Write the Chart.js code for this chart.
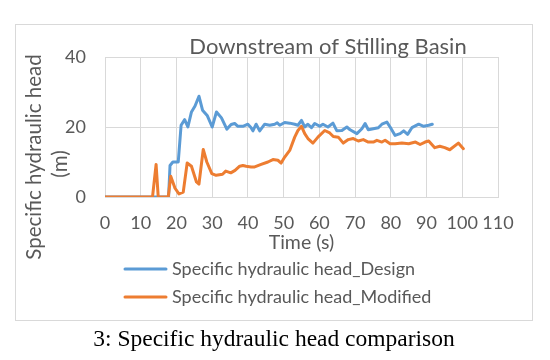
<!DOCTYPE html>
<html>
<head>
<meta charset="utf-8">
<script src="https://cdn.jsdelivr.net/npm/chart.js@4.4.1/dist/chart.umd.min.js"></script>
<style>
  html, body { margin: 0; padding: 0; background: #ffffff; }
  #wrap { width: 550px; height: 360px; position: relative; }
</style>
</head>
<body>
<div id="wrap"><canvas id="c" width="550" height="360"></canvas></div>
<script>
// ---------- data ----------
const chartTitle = "Downstream of Stilling Basin";
const xAxisTitle = "Time (s)";
const yAxisTitleLines = ["Specific hydraulic head", "(m)"];
const caption = "3: Specific hydraulic head comparison";
const seriesNames = ["Specific hydraulic head_Design", "Specific hydraulic head_Modified"];

const designTime = [0, 17.8, 18.2, 19.0, 20.5, 21.3, 22.3, 23.2, 24.2, 25.2, 26.3, 27.3, 28.6, 30.0, 31.2, 32.6, 34.1, 35.3, 36.3, 37.2, 38.6, 40.0, 40.9, 41.4, 42.3, 43.3, 44.7, 46.1, 47.5, 48.2, 48.9, 50.3, 51.7, 53.1, 54.0, 55.0, 55.9, 56.8, 57.8, 58.7, 60.1, 61.0, 62.4, 63.8, 64.9, 66.3, 67.7, 68.6, 70.5, 71.9, 72.8, 73.7, 75.1, 76.5, 77.5, 78.9, 79.8, 81.2, 82.6, 83.6, 84.7, 85.9, 87.8, 89.2, 90.6, 91.6];
const designHead = [0, 0, 9.0, 10.0, 10.0, 20.5, 22.1, 20.0, 24.3, 26.0, 28.8, 24.8, 23.3, 20.0, 24.3, 22.6, 19.4, 20.7, 21.0, 20.2, 20.2, 20.8, 19.8, 18.9, 20.8, 18.9, 20.8, 20.5, 20.8, 21.2, 20.5, 21.3, 21.1, 20.8, 20.5, 21.9, 20.0, 20.8, 19.8, 21.0, 20.2, 20.8, 20.0, 21.1, 18.9, 19.0, 20.0, 19.2, 18.1, 19.5, 21.0, 19.2, 19.5, 19.8, 20.8, 21.4, 20.0, 17.6, 18.1, 18.9, 17.9, 19.8, 20.8, 20.2, 20.5, 20.8];

const modifiedTime = [0, 13.3, 14.3, 14.9, 17.7, 18.4, 19.6, 20.7, 21.9, 23.0, 24.2, 25.6, 26.3, 27.5, 28.5, 29.9, 31.1, 32.9, 33.8, 35.2, 36.4, 37.7, 38.6, 39.5, 40.9, 41.9, 43.7, 45.6, 47.0, 48.4, 49.3, 50.3, 51.7, 53.1, 54.0, 55.0, 55.9, 56.8, 58.2, 59.6, 61.5, 62.9, 63.9, 65.3, 66.7, 68.1, 69.5, 70.9, 72.3, 73.7, 75.1, 76.1, 77.5, 78.4, 79.8, 81.2, 83.1, 85.0, 86.9, 88.2, 89.6, 90.6, 92.3, 93.7, 95.1, 96.5, 98.9, 100.3];
const modifiedHead = [0, 0, 9.3, 0, 0, 5.9, 2.5, 0.9, 1.4, 9.7, 8.8, 4.3, 3.7, 13.6, 10.0, 6.7, 6.2, 6.5, 7.4, 6.9, 7.6, 8.8, 9.0, 8.8, 8.6, 8.6, 9.3, 10.0, 10.7, 10.5, 9.7, 11.4, 13.3, 17.1, 19.0, 20.2, 18.1, 16.7, 15.4, 17.1, 19.0, 18.3, 17.3, 17.1, 15.4, 16.4, 16.7, 16.0, 16.4, 15.7, 15.7, 16.2, 15.7, 16.2, 15.2, 15.2, 15.4, 15.2, 15.7, 15.0, 15.7, 16.0, 14.1, 14.5, 14.1, 13.5, 15.4, 13.8];

const xTicks = [0, 10, 20, 30, 40, 50, 60, 70, 80, 90, 100, 110];
const yTicks = [0, 20, 40];

// ---------- styles ----------
const BLUE = "#5B9BD5";
const ORANGE = "#ED7D31";
const TEXT = "#595959";
const GRID = "#d9d9d9";
const SANS = "Lato, 'Open Sans', sans-serif";
const SERIF = "'Liberation Serif', 'DejaVu Serif', serif";

const toPts = (xs, ys) => xs.map((x, i) => ({ x: x, y: ys[i] }));

const decor = {
  id: 'decor',
  beforeDraw(chart) {
    const ctx = chart.ctx;
    ctx.save();
    ctx.fillStyle = '#ffffff';
    ctx.fillRect(0, 0, chart.width, chart.height);
    ctx.strokeStyle = GRID;
    ctx.lineWidth = 1;
    ctx.strokeRect(15.5, 24.5, 517, 296);
    ctx.restore();
  },
  afterDraw(chart) {
    const ctx = chart.ctx;
    const a = chart.chartArea;
    ctx.save();
    ctx.fillStyle = TEXT;
    ctx.textBaseline = 'middle';
    // chart title
    ctx.font = "22px " + SANS;
    ctx.textAlign = 'center';
    ctx.fillText(chartTitle, 328, 47);
    // x axis title
    ctx.font = "19.5px " + SANS;
    ctx.fillText(xAxisTitle, (a.left + a.right) / 2, 243);
    // y axis title
    ctx.font = "20.5px " + SANS;
    ctx.save();
    ctx.translate(34, 157);
    ctx.rotate(-Math.PI / 2);
    ctx.fillText(yAxisTitleLines[0], 0, 0);
    ctx.restore();
    ctx.save();
    ctx.translate(60, 164);
    ctx.rotate(-Math.PI / 2);
    ctx.fillText(yAxisTitleLines[1], 0, 0);
    ctx.restore();
    // legend
    const cols = [BLUE, ORANGE];
    const ly = [269, 297];
    ctx.font = "18px " + SANS;
    ctx.textAlign = 'left';
    for (let i = 0; i < 2; i++) {
      ctx.strokeStyle = cols[i];
      ctx.lineWidth = 3;
      ctx.lineCap = 'round';
      ctx.beginPath();
      ctx.moveTo(125, ly[i]);
      ctx.lineTo(166, ly[i]);
      ctx.stroke();
      ctx.fillText(seriesNames[i], 172, ly[i]);
    }
    // caption
    ctx.fillStyle = '#000000';
    ctx.font = "23.5px " + SERIF;
    ctx.textAlign = 'center';
    ctx.fillText(caption, 274, 340);
    ctx.restore();
  }
};

new Chart(document.getElementById('c'), {
  type: 'line',
  data: {
    datasets: [
      { label: seriesNames[0], data: toPts(designTime, designHead), borderColor: BLUE, backgroundColor: BLUE,
        borderWidth: 3, pointRadius: 0, tension: 0, fill: false, borderJoinStyle: 'round', borderCapStyle: 'round', order: 2 },
      { label: seriesNames[1], data: toPts(modifiedTime, modifiedHead), borderColor: ORANGE, backgroundColor: ORANGE,
        borderWidth: 3, pointRadius: 0, tension: 0, fill: false, borderJoinStyle: 'round', borderCapStyle: 'round', order: 1 }
    ]
  },
  options: {
    responsive: false,
    animation: false,
    devicePixelRatio: 1,
    layout: { padding: { left: 0, top: 57, right: 52, bottom: 0 } },
    plugins: { legend: { display: false }, title: { display: false }, tooltip: { enabled: false } },
    scales: {
      x: {
        type: 'linear', min: 0, max: 110,
        afterBuildTicks: (s) => { s.ticks = xTicks.map(v => ({ value: v })); },
        afterFit: (s) => { s.height = 163; },
        grid: { color: GRID, lineWidth: 1, drawTicks: false },
        border: { color: GRID },
        ticks: { color: TEXT, font: { family: SANS, size: 18 }, padding: 15, maxRotation: 0, autoSkip: false }
      },
      y: {
        min: 0, max: 40,
        afterBuildTicks: (s) => { s.ticks = yTicks.map(v => ({ value: v })); },
        afterFit: (s) => { s.width = 105; },
        grid: { color: GRID, lineWidth: 1, drawTicks: false },
        border: { color: GRID },
        ticks: { color: TEXT, font: { family: SANS, size: 18 }, padding: 19 }
      }
    }
  },
  plugins: [decor]
});
</script>
</body>
</html>
